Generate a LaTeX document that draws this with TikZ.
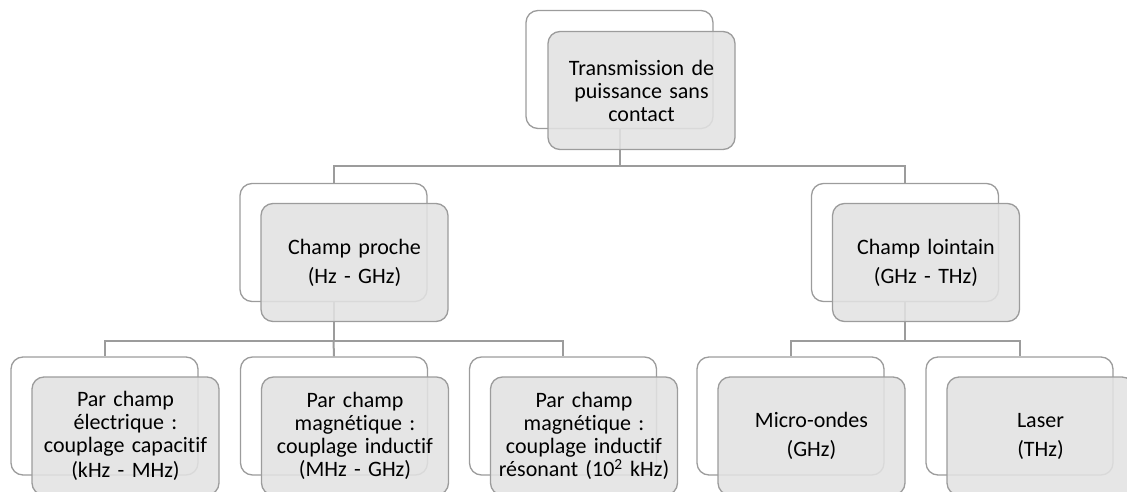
\documentclass[tikz,border=0pt]{standalone}
\usepackage{fontspec}
\setmainfont{Carlito}[Ligatures=CommonOff]
\definecolor{edge}{HTML}{9C9C9C}
\definecolor{boxfill}{HTML}{E2E2E2}

\begin{document}
\begin{tikzpicture}[x=1pt,y=-1pt,
		back/.style={draw=edge,line width=1.3pt,rounded corners=12pt,fill=white,minimum width=187pt,minimum height=118pt},
		front/.style={draw=edge,line width=1.3pt,rounded corners=12pt,fill=boxfill,fill opacity=0.88,text opacity=1,
			minimum width=187pt,minimum height=118pt,text width=180pt,align=center,font=\fontsize{22}{23}\selectfont},
		link/.style={draw=edge,line width=2pt}]
			\useasboundingbox (0,0) rectangle (1127,492);
			\clip (0,0) rectangle (1127,492);

			% back frames
			\node[back] (top_b) at (619.5,69.5) {};
			\node[back] (near_b) at (333.5,242.5) {};
			\node[back] (far_b) at (905,242.5) {};
			\node[back] (elec_b) at (104.5,416) {};
			\node[back] (magn_b) at (334,416) {};
			\node[back] (reso_b) at (563,416) {};
			\node[back] (micro_b) at (790.5,416) {};
			\node[back] (laser_b) at (1019.5,416) {};

			% junctions
			\coordinate (j1) at (619.5,166);
			\coordinate (j2) at (333.5,340.5);
			\coordinate (j3) at (905,340.5);

			\draw[link] (top_b.south) -- (j1);
			\draw[link] (j1) -| (near_b.north);
			\draw[link] (j1) -| (far_b.north);
			\draw[link] (near_b.south) -- (j2);
			\draw[link] (j2) -| (elec_b.north);
			\draw[link] (j2) -- (magn_b.north);
			\draw[link] (j2) -| (reso_b.north);
			\draw[link] (far_b.south) -- (j3);
			\draw[link] (j3) -| (micro_b.north);
			\draw[link] (j3) -| (laser_b.north);

			% front boxes
			\node[front] (top) at (641.5,90.5) {Transmission de\\puissance sans\\contact};
			\node[front] (near) at (354.5,262.5) {Champ proche\\[6pt](Hz - GHz)};
			\node[front] (far) at (926,262.5) {Champ lointain\\[6pt](GHz - THz)};
			\node[front] (elec) at (125.5,436) {Par champ\\électrique :\\couplage capacitif\\[2pt](kHz - MHz)};
			\node[front] (magn) at (355,436) {Par champ\\magnétique :\\couplage inductif\\(MHz - GHz)};
			\node[front] (reso) at (584,436) {Par champ\\magnétique :\\couplage inductif\\résonant (10\textsuperscript{2} kHz)};
			\node[front] (micro) at (811.5,436) {Micro-ondes\\[6pt](GHz)};
			\node[front] (laser) at (1040.5,436) {Laser\\[6pt](THz)};
		\end{tikzpicture}
\end{document}
